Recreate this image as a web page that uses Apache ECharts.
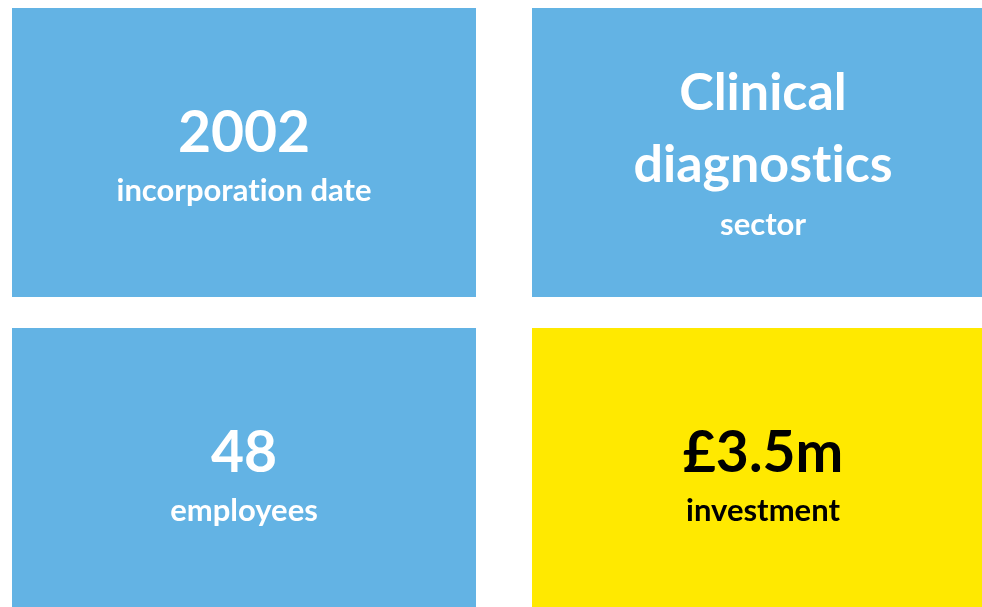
<!DOCTYPE html>
<html><head><meta charset="utf-8">
<script src="https://cdn.jsdelivr.net/npm/echarts@6/dist/echarts.min.js"></script>
<style>html,body{margin:0;padding:0;background:#fff}#c{width:982px;height:607px}</style>
</head><body><div id="c"></div>
<script>
const cols = ['left', 'right'];
const rows = ['top', 'bottom'];
const tileCol = [0, 1, 0, 1];
const tileRow = [0, 0, 1, 1];
const headlines = [['2002'], ['Clinical', 'diagnostics'], ['48'], ['£3.5m']];
const captions = ['incorporation date', 'sector', 'employees', 'investment'];
const highlight = [false, false, false, true];

const BLUE = '#63b3e4', YELLOW = '#ffe900';
const FONT = 'Lato';
const chart = echarts.init(document.getElementById('c'), null, {renderer: 'canvas'});
const data = tileCol.map((c, i) => [c, tileRow[i], i]);

// split text into separately drawn runs so that the font's "ti" ligature is not applied
function noLig(s) {
  return s.split(/(?<=t)(?=i)/).map(p => '{n|' + p + '}').join('');
}
function txt(x, y, s, size, fill) {
  return {type: 'text', x, y, style: {
    text: noLig(s), align: 'center', verticalAlign: 'middle',
    rich: {n: {fill, fontSize: size, fontWeight: 700, fontFamily: FONT, lineHeight: size}}
  }};
}

function renderItem(params, api) {
  const c = api.value(0), r = api.value(1), i = api.value(2);
  const ctr = api.coord([c, r]);
  const sz = api.size([1, 1]);
  let x0 = ctr[0] - sz[0] / 2, x1 = ctr[0] + sz[0] / 2;
  let y0 = ctr[1] - sz[1] / 2, y1 = ctr[1] + sz[1] / 2;
  if (c === 0) x1 -= 21; else x0 += 35;
  if (r === 0) y1 -= 10.5; else y0 += 20.5;
  const cx = (x0 + x1) / 2 + (c === 1 ? 6 : 0);
  const fg = highlight[i] ? '#000' : '#fff';
  const children = [{
    type: 'rect', shape: {x: x0, y: y0, width: x1 - x0, height: y1 - y0},
    style: {fill: highlight[i] ? YELLOW : BLUE}
  }];
  const lines = headlines[i];
  if (lines.length === 1) {
    children.push(txt(cx, y0 + 126, lines[0], 57, fg));
    children.push(txt(cx, y0 + 182.5, captions[i], 31, fg));
  } else {
    children.push(txt(cx, y0 + 85, lines[0], 52, fg));
    children.push(txt(cx, y0 + 157, lines[1], 52, fg));
    children.push(txt(cx, y0 + 217, captions[i], 31, fg));
  }
  return {type: 'group', children};
}

chart.setOption({
  animation: false,
  grid: {left: 12, right: 0, top: 8, bottom: 0},
  xAxis: {type: 'category', data: cols, show: false},
  yAxis: {type: 'category', data: rows, inverse: true, show: false},
  series: [{type: 'custom', renderItem, data, coordinateSystem: 'cartesian2d'}]
});
</script></body></html>
